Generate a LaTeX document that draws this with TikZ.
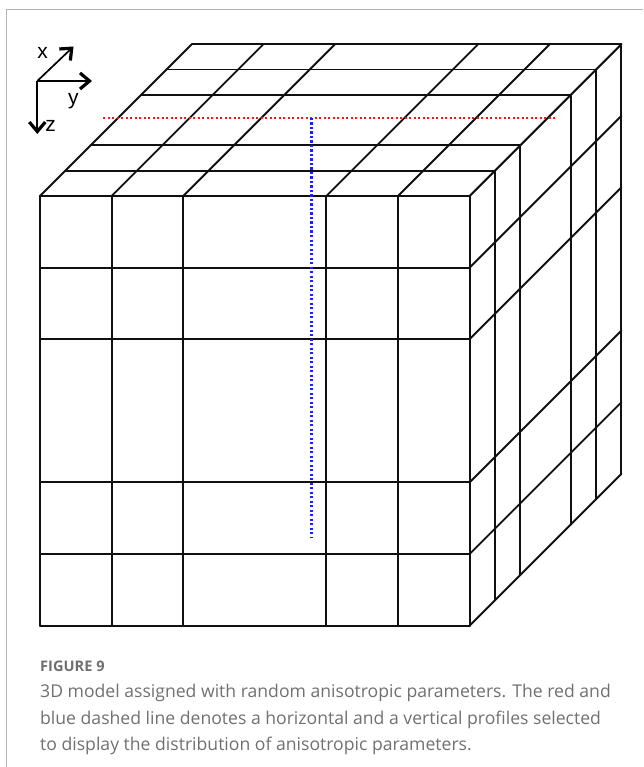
\documentclass[tikz,border=0pt]{standalone}
\usepackage{fontspec}
\setmainfont{Open Sans}
\newfontfamily\axfont{Liberation Sans}
\usetikzlibrary{arrows.meta}
\definecolor{capgray}{HTML}{707070}
\definecolor{framegray}{HTML}{B4B4B4}
\definecolor{gridblack}{HTML}{101010}
\definecolor{dotred}{HTML}{F01818}
\definecolor{dotblue}{HTML}{2020E8}
\begin{document}
\begin{tikzpicture}[
  gridline/.style={line width=1.9pt, draw=gridblack, line cap=round},
  reddots/.style={line width=2.8pt, draw=dotred, dash pattern=on 2.4pt off 2.1pt},
  bluedots/.style={line width=2.8pt, draw=dotblue, dash pattern=on 2.4pt off 2.1pt},
  axisarrow/.style={line width=1.7pt, draw=black, -{Straight Barb[length=9.5pt, width=16pt, line width=3.2pt]}},
  axislabel/.style={font=\axfont\fontsize{21}{23}\selectfont, inner sep=0pt, text=black},
  figlabel/.style={font=\bfseries\fontsize{14.6}{16}\selectfont, text=capgray, inner sep=0pt, anchor=base west},
  captext/.style={font=\fontsize{17.6}{20}\selectfont, text=capgray, inner sep=0pt, anchor=base west},
  frameline/.style={line width=1.4pt, draw=framegray}
]
\useasboundingbox (0pt,0pt) rectangle (643pt,-767pt);

% page frame
\coordinate (fbl) at (6.3pt,-767pt);
\coordinate (ftl) at (6.3pt,-9.3pt);
\coordinate (ftr) at (643pt,-9.3pt);
\draw[frameline] (fbl) -- (ftl) -- (ftr);

% cube grid
\begin{scope}[shift={(40pt,-196pt)}, x={(71.6pt,0pt)}, y={(25.3pt,25.3pt)}, z={(0pt,-71.6pt)}]
\foreach \a in {0,1,2,4,5,6} {
  \draw[gridline] (\a,0,0) -- (\a,0,6);
  \draw[gridline] (0,0,\a) -- (6,0,\a);
  \draw[gridline] (\a,0,0) -- (\a,6,0);
  \draw[gridline] (0,\a,0) -- (6,\a,0);
  \draw[gridline] (6,\a,0) -- (6,\a,6);
  \draw[gridline] (6,0,\a) -- (6,6,\a);
}
\end{scope}

% profiles
\coordinate (rs) at (103pt,-118pt);
\coordinate (re) at (555pt,-118pt);
\coordinate (bs) at (311.7pt,-118pt);
\coordinate (be) at (311.7pt,-537pt);
\draw[reddots] (rs) -- (re);
\draw[bluedots] (bs) -- (be);

% axes
\coordinate (o) at (37.3pt,-81pt);
\coordinate (xt) at (73.5pt,-46.5pt);
\coordinate (yt) at (92pt,-81pt);
\coordinate (zt) at (37.3pt,-134pt);
\draw[axisarrow] (o) -- (xt);
\draw[axisarrow] (o) -- (yt);
\draw[axisarrow] (o) -- (zt);
\node[axislabel] (xl) at (42.7pt,-53pt) {x};
\node[axislabel] (yl) at (73.3pt,-101.5pt) {y};
\node[axislabel] (zl) at (50.5pt,-126pt) {z};

% caption
\node[figlabel] (fig) at (40pt,-671pt) {FIGURE 9};
\node[captext] (c1) at (40pt,-697.5pt) {3D model assigned with random anisotropic parameters. The red and};
\node[captext] (c2) at (40pt,-724pt) {blue dashed line denotes a horizontal and a vertical profiles selected};
\node[captext] (c3) at (40pt,-750.5pt) {to display the distribution of anisotropic parameters.};
\end{tikzpicture}
\end{document}
